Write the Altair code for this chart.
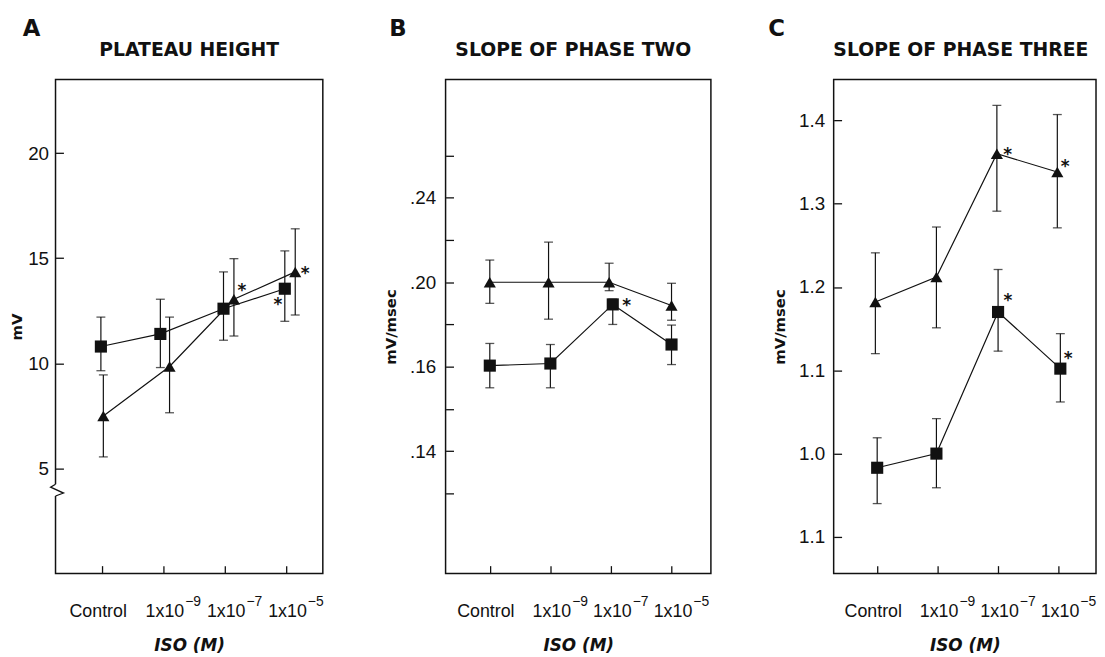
import altair as alt
import pandas as pd

# ---------------- data ----------------
x_ticks = [0, 1, 2, 3]
x_base = ["Control", "1x10", "1x10", "1x10"]
x_sup = ["", "−9", "−7", "−5"]

# Panel A: plateau height (mV)
A_x_sq = [-0.02, 0.95, 1.98, 2.98]
A_sq = [10.8, 11.4, 12.6, 13.55]
A_sq_lo = [9.65, 9.8, 11.1, 12.0]
A_sq_hi = [12.2, 13.05, 14.35, 15.35]
A_x_tri = [0.02, 1.1, 2.15, 3.15]
A_tri = [7.5, 9.85, 13.05, 14.35]
A_tri_lo = [5.55, 7.65, 11.3, 12.3]
A_tri_hi = [9.45, 12.2, 14.98, 16.4]

# Panel B: slope of phase two (mV/msec)
B_x_sq = [0.0, 1.0, 2.03, 3.0]
B_sq = [0.1605, 0.1615, 0.1895, 0.1705]
B_sq_lo = [0.150, 0.150, 0.180, 0.161]
B_sq_hi = [0.171, 0.1705, 0.192, 0.1797]
B_x_tri = [0.0, 0.97, 1.97, 3.0]
B_tri = [0.200, 0.200, 0.200, 0.189]
B_tri_lo = [0.190, 0.1825, 0.196, 0.182]
B_tri_hi = [0.2105, 0.219, 0.209, 0.1995]

# Panel C: slope of phase three (mV/msec)
C_x_sq = [0.0, 0.98, 2.0, 3.03]
C_sq = [0.983, 1.0, 1.17, 1.102]
C_sq_lo = [0.94, 0.959, 1.123, 1.062]
C_sq_hi = [1.019, 1.042, 1.221, 1.144]
C_x_tri = [-0.03, 0.98, 1.98, 2.98]
C_tri = [1.182, 1.212, 1.36, 1.338]
C_tri_lo = [1.12, 1.151, 1.291, 1.271]
C_tri_hi = [1.241, 1.272, 1.418, 1.407]

# significance asterisks: (series, point index)
A_stars = [("tri", 2), ("sq", 3), ("tri", 3)]
B_stars = [("sq", 2)]
C_stars = [("tri", 2), ("tri", 3), ("sq", 2), ("sq", 3)]

# axis break in panel A (data units)
A_break_x = [-0.76, -0.84, -0.63, -0.76]
A_break_y = [4.25, 4.11, 3.83, 3.69]

FONT = "Liberation Sans"
BOLD = "DejaVu Sans"
BLACK = "#111111"


def panel_df(xs_sq, sq, sq_lo, sq_hi, xs_tri, tri, tri_lo, tri_hi):
    rows = []
    for i in range(4):
        rows.append(dict(series="sq", idx=i, x=xs_sq[i], y=sq[i], lo=sq_lo[i], hi=sq_hi[i]))
    for i in range(4):
        rows.append(dict(series="tri", idx=i, x=xs_tri[i], y=tri[i], lo=tri_lo[i], hi=tri_hi[i]))
    return pd.DataFrame(rows)


lab_df = pd.DataFrame({"x": x_ticks, "base": x_base, "sup": x_sup})


def make_panel(df, stars, star_offsets, xdom, ydom, yticks, ylabel_expr, ytitle, title,
               title_dx, letter, letter_dx, width, height, ylabel_pad, ytitle_pad, extra=None):
    xs = alt.Scale(domain=xdom, nice=False, zero=False)
    ys = alt.Scale(domain=ydom, nice=False, zero=False)
    xaxis = alt.Axis(values=x_ticks, labels=False, title="ISO (M)", titlePadding=64,
                     titleFont=BOLD, titleFontWeight="bold", titleFontStyle="italic",
                     titleFontSize=17)
    yaxis = alt.Axis(values=yticks, labelExpr=ylabel_expr, title=ytitle,
                     labelPadding=ylabel_pad, titlePadding=ytitle_pad,
                     titleFont=BOLD, titleFontWeight="bold", titleFontSize=15)
    X = alt.X("x:Q", scale=xs, axis=xaxis)
    base = alt.Chart(df)
    line = base.mark_line(color=BLACK, strokeWidth=1.2).encode(
        x=X, y=alt.Y("y:Q", scale=ys, axis=yaxis), detail="series:N", order="idx:Q")
    rule = base.mark_rule(color=BLACK, strokeWidth=1.2).encode(
        x="x:Q", y="lo:Q", y2="hi:Q")
    cap_lo = base.mark_tick(color=BLACK, orient="horizontal", size=9, thickness=1.3).encode(
        x="x:Q", y="lo:Q")
    cap_hi = base.mark_tick(color=BLACK, orient="horizontal", size=9, thickness=1.3).encode(
        x="x:Q", y="hi:Q")
    pts = base.mark_point(filled=True, opacity=1, color=BLACK, size=150).encode(
        x="x:Q", y="y:Q",
        shape=alt.Shape("series:N", scale=alt.Scale(domain=["sq", "tri"],
                                                       range=["square", "triangle-up"]),
                        legend=None))
    layers = [line, rule, cap_lo, cap_hi, pts]
    for (s, i), (dx, dy) in zip(stars, star_offsets):
        sdf = df[(df.series == s) & (df.idx == i)]
        layers.append(alt.Chart(sdf).mark_text(text="*", font=BOLD, fontWeight="bold",
                                               fontSize=17, color=BLACK, dx=dx, dy=dy,
                                               baseline="middle", align="center")
                      .encode(x="x:Q", y="y:Q"))
    # category labels under the x axis (with real superscripts)
    lab = alt.Chart(lab_df)
    layers.append(lab.transform_filter("datum.sup == ''").mark_text(
        font=FONT, fontSize=18, color=BLACK, align="center", baseline="alphabetic", dx=-4
    ).encode(x="x:Q", y=alt.value(height + 44), text="base:N"))
    layers.append(lab.transform_filter("datum.sup != ''").mark_text(
        font=FONT, fontSize=18, color=BLACK, align="right", baseline="alphabetic", dx=21
    ).encode(x="x:Q", y=alt.value(height + 44), text="base:N"))
    layers.append(lab.transform_filter("datum.sup != ''").mark_text(
        font=FONT, fontSize=14, color=BLACK, align="left", baseline="alphabetic", dx=22
    ).encode(x="x:Q", y=alt.value(height + 33), text="sup:N"))
    # panel letter and title
    layers.append(alt.Chart(pd.DataFrame({"t": [letter]})).mark_text(
        font=BOLD, fontWeight="bold", fontSize=23, color=BLACK, align="left",
        baseline="alphabetic").encode(text="t:N", x=alt.value(letter_dx), y=alt.value(-44)))
    layers.append(alt.Chart(pd.DataFrame({"t": [title]})).mark_text(
        font=BOLD, fontWeight="bold", fontSize=19, color=BLACK, align="center",
        baseline="alphabetic").encode(text="t:N", x=alt.value(width / 2 + title_dx),
                                      y=alt.value(-24)))
    if extra is not None:
        layers += extra
    return alt.layer(*layers).properties(width=width, height=height)


dfA = panel_df(A_x_sq, A_sq, A_sq_lo, A_sq_hi, A_x_tri, A_tri, A_tri_lo, A_tri_hi)
dfB = panel_df(B_x_sq, B_sq, B_sq_lo, B_sq_hi, B_x_tri, B_tri, B_tri_lo, B_tri_hi)
dfC = panel_df(C_x_sq, C_sq, C_sq_lo, C_sq_hi, C_x_tri, C_tri, C_tri_lo, C_tri_hi)

brk = pd.DataFrame({"x": A_break_x, "y": A_break_y, "o": [0, 1, 2, 3]})
break_white = alt.Chart(brk.iloc[[0, 3]]).mark_line(color="white", strokeWidth=4, clip=False).encode(
    x=alt.value(0), y="y:Q")
break_line = alt.Chart(brk).mark_line(color=BLACK, strokeWidth=1.3, clip=False).encode(
    x="x:Q", y="y:Q", order="o:Q")

H = 499
panelA = make_panel(dfA, A_stars, [(8, -8), (-7, 16), (10, 2)],
                    [-0.76, 3.6], [0, 23.5], [5, 10, 15, 20], "datum.label", "mV",
                    "PLATEAU HEIGHT", 0, "A", -33, 270, H, 7, 3,
                    extra=[break_white, break_line])

panelB = make_panel(dfB, B_stars, [(14, 2)],
                    [-0.73, 3.65], [0.062, 0.296],
                    [0.10, 0.12, 0.14, 0.16, 0.18, 0.20, 0.22, 0.24, 0.26],
                    "abs(datum.value-0.12)<0.001 ? '.14' : (abs(datum.value-0.16)<0.001 ? '.16' : "
                    "(abs(datum.value-0.20)<0.001 ? '.20' : (abs(datum.value-0.24)<0.001 ? '.24' : '')))",
                    "mV/msec", "SLOPE OF PHASE TWO", -5, "B", -57, 268, H, 10, 11)

panelC = make_panel(dfC, C_stars, [(11, 1), (8, -5), (10, -11), (8, -10)],
                    [-0.72, 3.62], [0.856, 1.449], [0.9, 1.0, 1.1, 1.2, 1.3, 1.4],
                    "abs(datum.value-0.9)<0.001 ? '1.1' : format(datum.value, '.1f')",
                    "mV/msec", "SLOPE OF PHASE THREE", -4, "C", -66, 265, H, 9, 11)

chart = alt.hconcat(panelA, panelB, panelC, spacing=124, bounds="flush").properties(
    padding={"left": 1, "top": 6, "right": 0, "bottom": 0}
).configure_view(stroke=BLACK, strokeWidth=1.5).configure_axis(
    domain=False, grid=False, ticks=True, tickSize=8, offset=-8, tickColor=BLACK,
    tickWidth=1.3, labelColor=BLACK, titleColor=BLACK, labelFont=FONT, labelFontSize=18
).configure_axisY(labelFontSize=19)

chart.save("out.html", embed_options={"renderer": "svg", "actions": False})
